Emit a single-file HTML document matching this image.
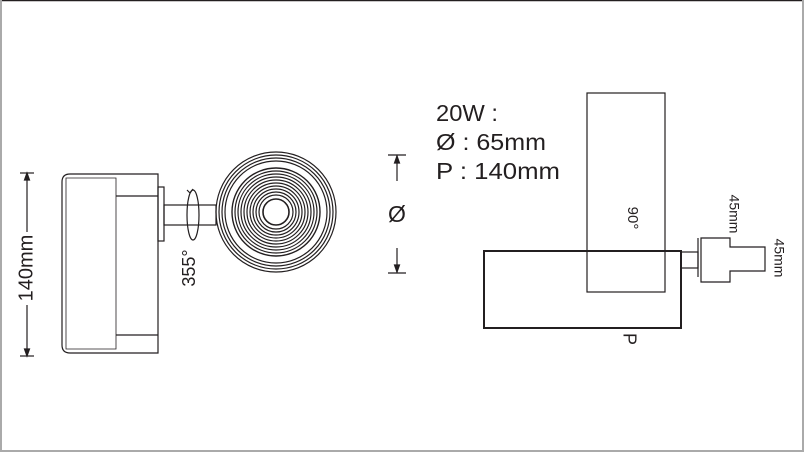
<!DOCTYPE html>
<html><head><meta charset="utf-8"><style>
html,body{margin:0;padding:0;background:#fff}
svg{display:block}
text{font-family:"Liberation Sans",sans-serif;fill:#231f20}
</style></head><body>
<svg width="804" height="452" viewBox="0 0 804 452" xmlns="http://www.w3.org/2000/svg">
<rect x="0" y="0" width="804" height="452" fill="#fff"/>
<line x1="0" y1="0.5" x2="804" y2="0.5" stroke="#231f20" stroke-width="1.5"/>
<rect x="0" y="0" width="2" height="452" fill="#aaa"/>
<rect x="802" y="0" width="2" height="452" fill="#aaa"/>
<rect x="0" y="450" width="804" height="2" fill="#aaa"/>
<g stroke="#231f20" fill="none" stroke-width="1.2">
<line x1="20" y1="173" x2="34" y2="173"/>
<line x1="20" y1="356" x2="34" y2="356"/>
<line x1="27" y1="173" x2="27" y2="232"/>
<line x1="27" y1="305" x2="27" y2="356"/>
<path d="M27 173 l-2.5 7 h5z M27 356 l-2.5 -7 h5z" fill="#231f20"/>
<path d="M70 174 H158 V353 H70 Q62 353 62 345 V182 Q62 174 70 174Z"/>
<path d="M66 178 H116 V349 H66Z" stroke-width="0.8"/>
<line x1="116" y1="196" x2="158" y2="196"/>
<line x1="116" y1="335" x2="158" y2="335"/>
<rect x="158" y="187" width="6" height="54"/>
<rect x="164" y="205" width="52" height="20"/>
<ellipse cx="193" cy="215" rx="6" ry="25"/>
<path d="M190 193 l-3 -3 M190 193 l3 -4" />
<g>
<circle cx="276" cy="212" r="60"/>
<circle cx="276" cy="212" r="57"/>
<circle cx="276" cy="212" r="54"/>
<circle cx="276" cy="212" r="51"/>
<circle cx="276" cy="212" r="44" stroke-width="1.4"/>
<circle cx="276" cy="212" r="41"/>
<circle cx="276" cy="212" r="38"/>
<circle cx="276" cy="212" r="35"/>
<circle cx="276" cy="212" r="32"/>
<circle cx="276" cy="212" r="29"/>
<circle cx="276" cy="212" r="26"/>
<circle cx="276" cy="212" r="23"/>
<circle cx="276" cy="212" r="20"/>
<circle cx="276" cy="212" r="17"/>
<circle cx="276" cy="212" r="13" stroke-width="1.6"/>
</g>
<line x1="388" y1="155" x2="406" y2="155"/>
<line x1="397" y1="155" x2="397" y2="181"/>
<line x1="397" y1="248" x2="397" y2="273"/>
<line x1="388" y1="273" x2="406" y2="273"/>
<path d="M397 156 l-2.5 7 h5z M397 272 l-2.5 -7 h5z" fill="#231f20"/>
<rect x="587" y="93" width="78" height="199"/>
<rect x="484" y="251" width="197" height="77" stroke-width="2"/>
<rect x="681" y="252" width="17" height="16"/>
<line x1="698" y1="238" x2="698" y2="277"/>
<path d="M701 238 H730 V247 H765 V271 H730 V282 H701Z"/>
</g>
<text x="27" y="268" font-size="20" text-anchor="middle" transform="rotate(-90 27 268)" dominant-baseline="middle">140mm</text>
<text x="190" y="268" font-size="18" text-anchor="middle" transform="rotate(-90 190 268)" dominant-baseline="middle">355°</text>
<text x="397" y="216" font-size="23" text-anchor="middle" dominant-baseline="middle">Ø</text>
<text x="436" y="121" font-size="23" textLength="62" lengthAdjust="spacingAndGlyphs">20W :</text>
<text x="436" y="150" font-size="23" textLength="110" lengthAdjust="spacingAndGlyphs">Ø : 65mm</text>
<text x="436" y="179" font-size="23" textLength="124" lengthAdjust="spacingAndGlyphs">P : 140mm</text>
<text x="632" y="218" font-size="15" text-anchor="middle" transform="rotate(90 632 218)" dominant-baseline="middle">90°</text>
<text x="733" y="214" font-size="14" text-anchor="middle" transform="rotate(90 733 214)" dominant-baseline="middle">45mm</text>
<text x="778" y="258" font-size="14" text-anchor="middle" transform="rotate(90 778 258)" dominant-baseline="middle">45mm</text>
<text x="628" y="339" font-size="18" text-anchor="middle" transform="rotate(90 628 339)" dominant-baseline="middle">P</text>
</svg>
</body></html>
